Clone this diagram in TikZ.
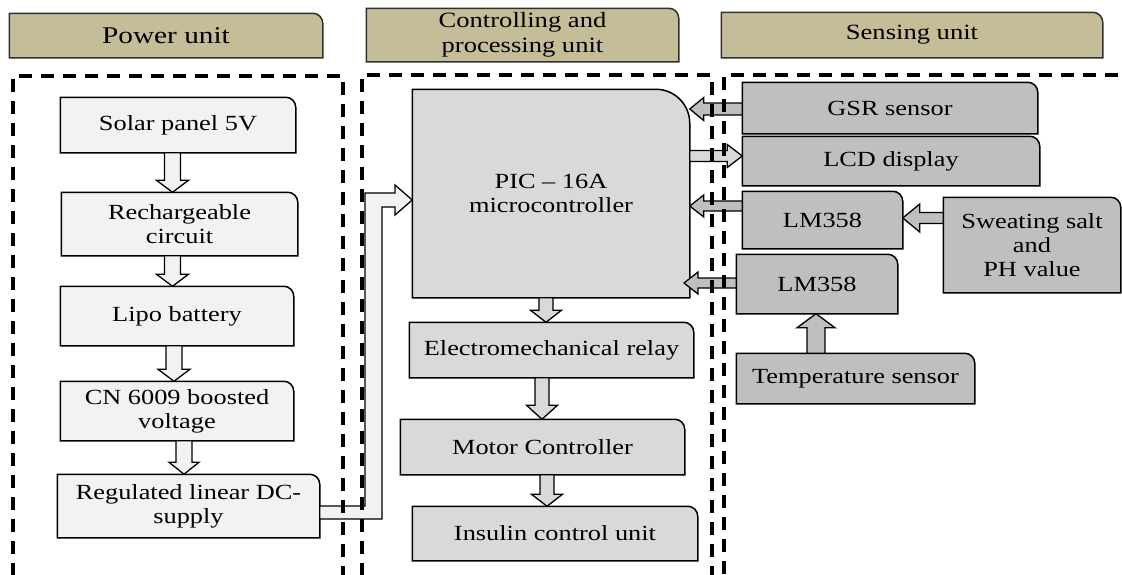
\documentclass[tikz,border=0pt]{standalone}
\usepackage{fontspec}
\setmainfont{Liberation Serif}[FakeStretch=1.22]
\usetikzlibrary{calc}
\definecolor{pfill}{HTML}{F2F2F2}
\definecolor{cfill}{HTML}{D9D9D9}
\definecolor{sfill}{HTML}{BFBFBF}
\definecolor{hfill}{HTML}{C4BD97}
\definecolor{hline}{HTML}{303030}
\newdimen\trXa \newdimen\trYa \newdimen\trXb \newdimen\trYb \newdimen\trXc
\def\trrad{10pt}
\makeatletter
\pgfdeclareshape{trbox}{
  \inheritsavedanchors[from=rectangle]
  \inheritanchorborder[from=rectangle]
  \inheritanchor[from=rectangle]{center}
  \inheritanchor[from=rectangle]{north}
  \inheritanchor[from=rectangle]{south}
  \inheritanchor[from=rectangle]{east}
  \inheritanchor[from=rectangle]{west}
  \inheritanchor[from=rectangle]{north east}
  \inheritanchor[from=rectangle]{north west}
  \inheritanchor[from=rectangle]{south east}
  \inheritanchor[from=rectangle]{south west}
  \inheritanchor[from=rectangle]{base}
  \inheritanchor[from=rectangle]{mid}
  \backgroundpath{
    \southwest \global\trXa=\pgf@x \global\trYa=\pgf@y
    \northeast \global\trXb=\pgf@x \global\trYb=\pgf@y
    \global\trXc=\trXb \global\advance\trXc by -\trrad
    \pgfpathmoveto{\pgfqpoint{\trXa}{\trYa}}
    \pgfpathlineto{\pgfqpoint{\trXa}{\trYb}}
    \pgfpathlineto{\pgfqpoint{\trXc}{\trYb}}
    \pgfpatharc{90}{0}{\trrad}
    \pgfpathlineto{\pgfqpoint{\trXb}{\trYa}}
    \pgfpathclose
  }
}
\makeatother
% block arrow: #1 fill, #2 start, #3 tip, #4 half shaft, #5 half head, #6 head length
\newcommand\barrow[6]{%
  \coordinate (ba) at (#2);
  \coordinate (bb) at (#3);
  \coordinate (hb) at ($(bb)!#6!(ba)$);
  \draw[arrline, fill=#1] ($(ba)!#4!90:(bb)$) -- ($(hb)!#4!90:(bb)$) -- ($(hb)!#5!90:(bb)$) -- (bb)
    -- ($(hb)!#5!-90:(bb)$) -- ($(hb)!#4!-90:(bb)$) -- ($(ba)!#4!-90:(bb)$) -- cycle;}
\begin{document}
\begin{tikzpicture}[x=1pt,y=-1pt,
  base/.style={shape=trbox, draw=black, line width=1.5pt, align=center, inner sep=0pt,
    font=\fontsize{21.6}{24}\selectfont, text=black},
  pbox/.style={base, fill=pfill},
  cbox/.style={base, fill=cfill},
  sbox/.style={base, fill=sfill},
  hbox/.style={base, fill=hfill, draw=hline, font=\fontsize{21.8}{25}\selectfont},
  trrad/.code={\def\trrad{#1}},
  arrline/.style={draw=black, line width=1.3pt, line join=miter},
  dashline/.style={draw=black, line width=3.2pt, dash pattern=on 13pt off 9pt}]
\useasboundingbox (0,0) rectangle (1122,574);
\clip (0,0) rectangle (1122,574);
\fill[white] (0,0) rectangle (1122,574);

% headers
\node[hbox, minimum width=312pt, minimum height=43pt, font=\fontsize{24}{27}\selectfont] (hpow) at (166,35.5) {Power unit};
\node[hbox, minimum width=311pt, minimum height=52pt] (hctl) at (522.5,35) {Controlling and\\processing unit};
\node[hbox, minimum width=380pt, minimum height=44pt] (hsen) at (912,35) {Sensing unit};

% power unit
\node[pbox, minimum width=234pt, minimum height=54pt] (solar) at (178,125) {Solar panel 5V};
\node[pbox, minimum width=235pt, minimum height=62pt] (recharge) at (179.5,224) {Rechargeable\\circuit};
\node[pbox, minimum width=232pt, minimum height=58pt] (lipo) at (177,316) {Lipo battery};
\node[pbox, minimum width=232pt, minimum height=58pt] (cn) at (177,411) {CN 6009 boosted\\voltage};
\node[pbox, minimum width=261pt, minimum height=62pt] (reg) at (188.5,506) {Regulated linear DC-\\supply};

% controlling unit
\node[cbox, trrad=34pt, minimum width=276pt, minimum height=207pt] (pic) at (551,193.5) {PIC -- 16A\\microcontroller};
\node[cbox, minimum width=283pt, minimum height=54pt] (relay) at (551.5,350) {Electromechanical relay};
\node[cbox, minimum width=283pt, minimum height=54pt] (motor) at (542.5,447) {Motor Controller};
\node[cbox, minimum width=284pt, minimum height=53pt] (insulin) at (555,533.5) {Insulin control unit};

% sensing unit
\node[sbox, minimum width=294pt, minimum height=50pt] (gsr) at (890,108) {GSR sensor};
\node[sbox, minimum width=296pt, minimum height=48pt] (lcd) at (891,161) {LCD display};
\node[sbox, minimum width=159pt, minimum height=56pt] (lma) at (822.5,220) {LM358};
\node[sbox, minimum width=176pt, minimum height=94pt] (sweat) at (1032,245) {Sweating salt\\and\\PH value};
\node[sbox, minimum width=160pt, minimum height=58pt] (lmb) at (817,284) {LM358};
\node[sbox, minimum width=237pt, minimum height=49pt] (temp) at (855.5,378.5) {Temperature sensor};

% power chain arrows
\barrow{pfill}{172.5,0 |- solar.south}{172.5,0 |- recharge.north}{8pt}{16pt}{12pt}
\barrow{pfill}{172.5,0 |- recharge.south}{172.5,0 |- lipo.north}{8pt}{16pt}{12pt}
\barrow{pfill}{174,0 |- lipo.south}{174,0 |- cn.north}{8pt}{16pt}{12pt}
\barrow{pfill}{184,0 |- cn.south}{184,0 |- reg.north}{8pt}{15pt}{12pt}

% supply to PIC
\coordinate (pwtip) at (pic.west |- 0,200);
\draw[arrline, fill=pfill] (reg.east |- 0,506) -- (365,506) -- (365,193) -- (395,193) -- (395,185)
  -- (pwtip) -- (395,215) -- (395,207) -- (382,207) -- (382,519) -- (reg.east |- 0,519) -- cycle;

% control chain arrows
\barrow{cfill}{546,0 |- pic.south}{546,0 |- relay.north}{7pt}{15.5pt}{12pt}
\barrow{cfill}{542,0 |- relay.south}{542,0 |- motor.north}{7pt}{15.5pt}{14pt}
\barrow{cfill}{547,0 |- motor.south}{547,0 |- insulin.north}{7pt}{15.5pt}{12pt}

% sensing arrows
\barrow{sfill}{gsr.west |- 0,109}{pic.east |- 0,109}{6pt}{11.5pt}{14pt}
\barrow{cfill}{pic.east |- 0,156}{lcd.west |- 0,156}{5.5pt}{11.5pt}{15pt}
\barrow{sfill}{lma.west |- 0,206}{pic.east |- 0,206}{5pt}{11pt}{14pt}
\barrow{sfill}{lmb.west |- 0,283}{684,283}{5pt}{11pt}{14pt}
\barrow{sfill}{sweat.west |- 0,218}{lma.east |- 0,218}{5.5pt}{14pt}{17pt}
\barrow{sfill}{816,0 |- temp.north}{816,0 |- lmb.south}{9pt}{19pt}{14pt}

% dashed unit regions
\draw[dashline] (13,620) -- (13,76) -- (343,76) -- (343,620);
\draw[dashline] (362,620) -- (362,75) -- (712,75) -- (712,620);
\draw[dashline] (1140,75) -- (724,75) -- (724,620);
\end{tikzpicture}
\end{document}
